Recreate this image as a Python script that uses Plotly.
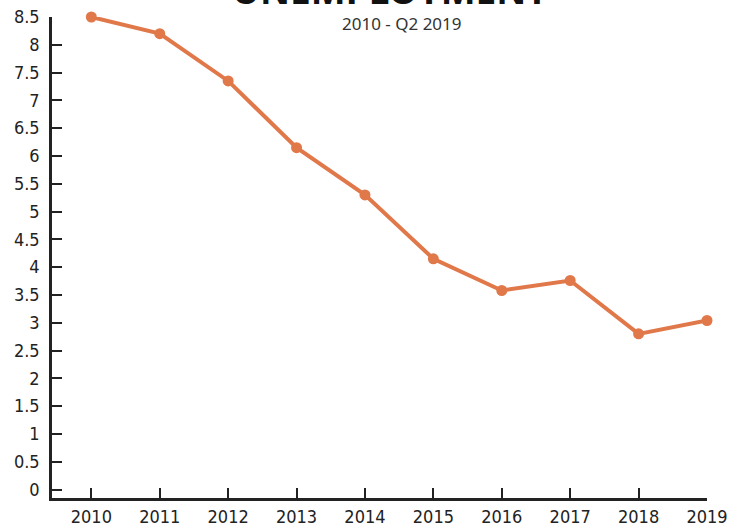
import plotly.graph_objects as go

years = [2010, 2011, 2012, 2013, 2014, 2015, 2016, 2017, 2018, 2019]
unemployment = [8.5, 8.2, 7.35, 6.15, 5.3, 4.15, 3.58, 3.76, 2.8, 3.04]
y_ticks = [0, 0.5, 1, 1.5, 2, 2.5, 3, 3.5, 4, 4.5, 5, 5.5, 6, 6.5, 7, 7.5, 8, 8.5]
y_tick_labels = ["0", "0.5", "1", "1.5", "2", "2.5", "3", "3.5", "4", "4.5", "5",
                 "5.5", "6", "6.5", "7", "7.5", "8", "8.5"]
title_text = "UNEMPLOYMENT"
subtitle_text = "2010 - Q2 2019"

FONT = "DejaVu Sans Condensed, Liberation Sans Narrow, sans-serif"
COLOR = "#E0784A"

fig = go.Figure()
fig.add_trace(go.Scatter(
    x=years, y=unemployment, mode="lines+markers",
    line=dict(color=COLOR, width=4),
    marker=dict(color=COLOR, size=11),
    cliponaxis=False, hoverinfo="x+y", showlegend=False,
))

fig.update_layout(
    width=735, height=525,
    margin=dict(l=52, r=28, t=17, b=27),
    paper_bgcolor="white", plot_bgcolor="white",
    font=dict(family=FONT, size=18, color="#222"),
    xaxis=dict(
        range=[2009.425, 2019], tickmode="array", tickvals=years,
        ticktext=[str(y) for y in years], automargin=False,
        showgrid=False, zeroline=False, showline=True, linecolor="#222", linewidth=2.5,
        ticks="inside", ticklen=10, tickwidth=2, tickcolor="#222",
        ticklabelstandoff=1, ticklabeloverflow="allow",
    ),
    yaxis=dict(
        range=[-0.153, 8.5], tickmode="array", tickvals=y_ticks, ticktext=y_tick_labels,
        automargin=False,
        showgrid=False, zeroline=False, showline=True, linecolor="#222", linewidth=2.5,
        ticks="inside", ticklen=10, tickwidth=2, tickcolor="#222",
        ticklabelstandoff=6, ticklabeloverflow="allow",
    ),
    annotations=[
        dict(text="<b>" + title_text + "</b>", x=0.516, y=(498 + 11) / 481,
             xref="paper", yref="paper", xanchor="center", yanchor="middle",
             showarrow=False, font=dict(family="Noto Sans, sans-serif", size=37, color="#111")),
        dict(text=subtitle_text, x=0.534, y=(498 - 23) / 481,
             xref="paper", yref="paper", xanchor="center", yanchor="middle",
             showarrow=False, font=dict(family="Noto Sans, sans-serif", size=17, color="#333")),
    ],
)

fig.write_html("out.html", config={"displayModeBar": False},
               post_script="document.body.style.margin='0';")
